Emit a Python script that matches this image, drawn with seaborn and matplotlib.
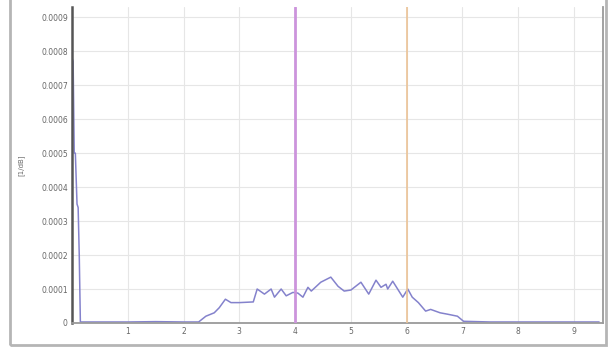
import matplotlib
matplotlib.use("Agg")
import matplotlib.pyplot as plt
from matplotlib.patches import Rectangle
import seaborn as sns
import pandas as pd

# Distribution curve samples
x_vals = [0.0, 0.02, 0.04, 0.06, 0.09, 0.11, 0.13, 0.15, 0.2, 0.6, 1.0, 1.5, 2.0, 2.27,
          2.4, 2.55, 2.64, 2.75, 2.85, 3.0, 3.25, 3.32, 3.45, 3.57, 3.63, 3.75, 3.84,
          3.96, 4.05, 4.14, 4.23, 4.29, 4.46, 4.64, 4.77, 4.88, 5.0, 5.18, 5.32, 5.45,
          5.54, 5.63, 5.66, 5.75, 5.93, 6.02, 6.1, 6.21, 6.34, 6.43, 6.6, 6.73, 6.91,
          7.02, 7.5, 8.0, 8.5, 9.0, 9.45]
y_vals = [0.00078, 0.00077, 0.0005, 0.0005, 0.00035, 0.00034, 0.0002, 0.000003, 0.000003,
          0.000003, 0.000003, 0.000004, 0.000003, 0.000003, 0.00002, 0.00003, 0.000045,
          0.00007, 0.00006, 0.00006, 0.000062, 0.0001, 0.000085, 0.0001, 0.000076,
          0.0001, 0.00008, 0.00009, 0.000088, 0.000076, 0.000105, 0.000094, 0.00012,
          0.000135, 0.000108, 0.000094, 0.000097, 0.00012, 0.000085, 0.000126, 0.000105,
          0.000114, 0.0001, 0.000123, 0.000076, 0.0001, 0.000076, 0.00006, 0.000035,
          0.00004, 0.00003, 0.000026, 0.00002, 0.000005, 0.000003, 0.000003, 0.000003,
          0.000003, 0.000003]

x_ticks = [1, 2, 3, 4, 5, 6, 7, 8, 9]
y_ticks = [0, 0.0001, 0.0002, 0.0003, 0.0004, 0.0005, 0.0006, 0.0007, 0.0008, 0.0009]
y_tick_labels = ["0", "0.0001", "0.0002", "0.0003", "0.0004", "0.0005",
                 "0.0006", "0.0007", "0.0008", "0.0009"]
marker_lines = [4, 6]
marker_colors = ["#cc94dc", "#ebc396"]
y_label = "[1/dB]"

sns.set_theme(style="whitegrid")
plt.rcParams["font.family"] = ["DejaVu Sans"]

fig = plt.figure(figsize=(6.16, 3.49), dpi=100)
fig.patch.set_facecolor("white")
ax = fig.add_axes([72 / 616, 26 / 349, (603 - 72) / 616, (342) / 349 - 26 / 349])

df = pd.DataFrame({"x": x_vals, "y": y_vals})
sns.lineplot(data=df, x="x", y="y", ax=ax, color="#8482cc", linewidth=1.1,
             estimator=None, sort=False)

for xv, c, lw in zip(marker_lines, marker_colors, [2.0, 1.2]):
    ax.axvline(xv, color=c, linewidth=lw, zorder=3)

ax.set_xlim(0, 9.52)
ax.set_ylim(0, 0.00093)
ax.set_xticks(x_ticks)
ax.set_xticklabels([str(t) for t in x_ticks])
ax.set_yticks(y_ticks)
ax.set_yticklabels(y_tick_labels)
ax.tick_params(axis="both", labelsize=5.5, colors="#666666", length=0, pad=3)
ax.set_xlabel("")
ax.set_ylabel(y_label, fontsize=5, color="#666666", labelpad=12)
ax.grid(True, color="#e6e6e6", linewidth=0.8)
ax.set_facecolor("white")

for side, sp in ax.spines.items():
    sp.set_visible(True)
    sp.set_color("#9a9a9a")
    sp.set_linewidth(1.3)
ax.spines["left"].set_color("#555555")
ax.spines["left"].set_linewidth(1.8)
ax.spines["top"].set_visible(False)

# Outer panel frame
fig.patches.append(Rectangle((10 / 616, 4 / 349), 596 / 616, 1.0, transform=fig.transFigure,
                             fill=False, edgecolor="#b5b5b5", linewidth=2.0))

fig.savefig("out.png", dpi=100, facecolor="white")
